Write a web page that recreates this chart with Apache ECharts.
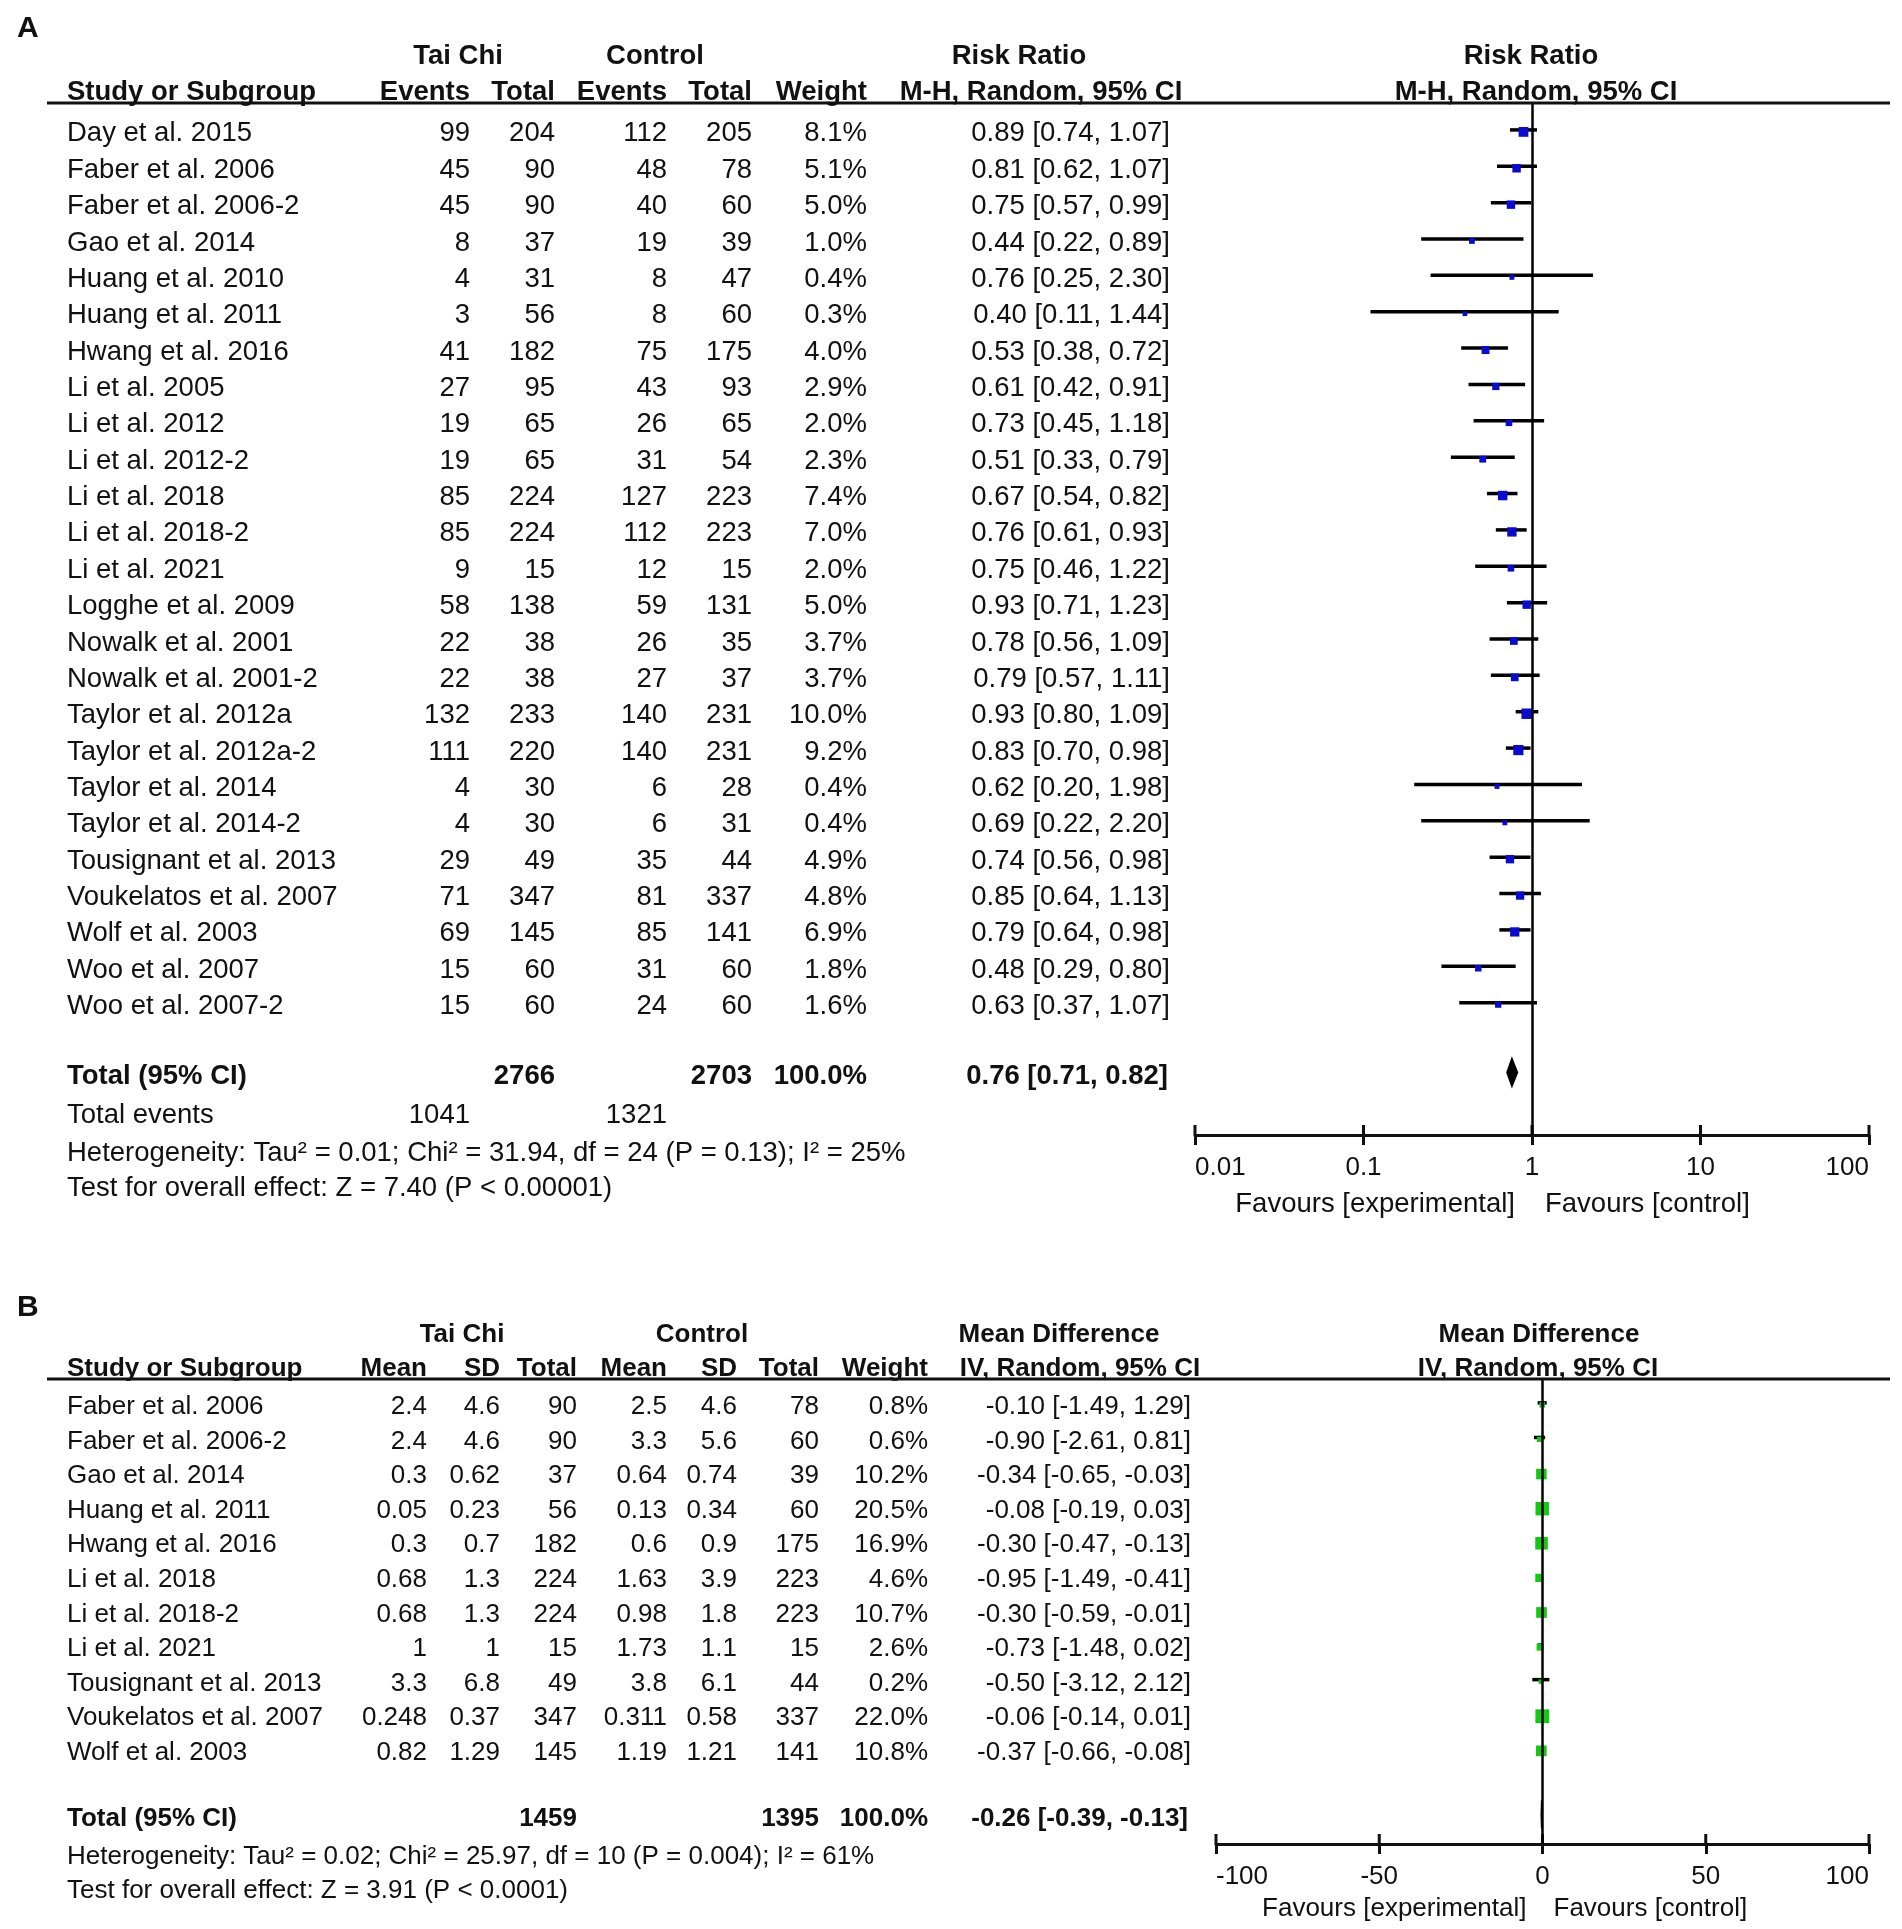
<!DOCTYPE html>
<html><head><meta charset="utf-8">
<script src="https://cdn.jsdelivr.net/npm/echarts@6.0.0/dist/echarts.min.js"></script>
<style>html,body{margin:0;padding:0;background:#fff}#c{width:1902px;height:1929px}</style>
</head><body><div id="c"></div>
<script>
// ---------- Panel A data (Risk Ratio) ----------
const studiesA = ["Day et al. 2015","Faber et al. 2006","Faber et al. 2006-2","Gao et al. 2014","Huang et al. 2010","Huang et al. 2011","Hwang et al. 2016","Li et al. 2005","Li et al. 2012","Li et al. 2012-2","Li et al. 2018","Li et al. 2018-2","Li et al. 2021","Logghe et al. 2009","Nowalk et al. 2001","Nowalk et al. 2001-2","Taylor et al. 2012a","Taylor et al. 2012a-2","Taylor et al. 2014","Taylor et al. 2014-2","Tousignant et al. 2013","Voukelatos et al. 2007","Wolf et al. 2003","Woo et al. 2007","Woo et al. 2007-2"];
const tcEventsA = [99,45,45,8,4,3,41,27,19,19,85,85,9,58,22,22,132,111,4,4,29,71,69,15,15];
const tcTotalA  = [204,90,90,37,31,56,182,95,65,65,224,224,15,138,38,38,233,220,30,30,49,347,145,60,60];
const ctEventsA = [112,48,40,19,8,8,75,43,26,31,127,112,12,59,26,27,140,140,6,6,35,81,85,31,24];
const ctTotalA  = [205,78,60,39,47,60,175,93,65,54,223,223,15,131,35,37,231,231,28,31,44,337,141,60,60];
const weightA   = [8.1,5.1,5.0,1.0,0.4,0.3,4.0,2.9,2.0,2.3,7.4,7.0,2.0,5.0,3.7,3.7,10.0,9.2,0.4,0.4,4.9,4.8,6.9,1.8,1.6];
const rrA       = [0.89,0.81,0.75,0.44,0.76,0.40,0.53,0.61,0.73,0.51,0.67,0.76,0.75,0.93,0.78,0.79,0.93,0.83,0.62,0.69,0.74,0.85,0.79,0.48,0.63];
const rrLowA    = [0.74,0.62,0.57,0.22,0.25,0.11,0.38,0.42,0.45,0.33,0.54,0.61,0.46,0.71,0.56,0.57,0.80,0.70,0.20,0.22,0.56,0.64,0.64,0.29,0.37];
const rrHighA   = [1.07,1.07,0.99,0.89,2.30,1.44,0.72,0.91,1.18,0.79,0.82,0.93,1.22,1.23,1.09,1.11,1.09,0.98,1.98,2.20,0.98,1.13,0.98,0.80,1.07];
const totalA    = {tcTotal:2766, ctTotal:2703, weight:100.0, est:0.76, low:0.71, high:0.82, tcEvents:1041, ctEvents:1321};
const hetA  = "Heterogeneity: Tau\u00b2 = 0.01; Chi\u00b2 = 31.94, df = 24 (P = 0.13); I\u00b2 = 25%";
const testA = "Test for overall effect: Z = 7.40 (P < 0.00001)";
const ticksA = [0.01, 0.1, 1, 10, 100];

// ---------- Panel B data (Mean Difference) ----------
const studiesB = ["Faber et al. 2006","Faber et al. 2006-2","Gao et al. 2014","Huang et al. 2011","Hwang et al. 2016","Li et al. 2018","Li et al. 2018-2","Li et al. 2021","Tousignant et al. 2013","Voukelatos et al. 2007","Wolf et al. 2003"];
const tcMeanB  = [2.4,2.4,0.3,0.05,0.3,0.68,0.68,1,3.3,0.248,0.82];
const tcSdB    = [4.6,4.6,0.62,0.23,0.7,1.3,1.3,1,6.8,0.37,1.29];
const tcTotalB = [90,90,37,56,182,224,224,15,49,347,145];
const ctMeanB  = [2.5,3.3,0.64,0.13,0.6,1.63,0.98,1.73,3.8,0.311,1.19];
const ctSdB    = [4.6,5.6,0.74,0.34,0.9,3.9,1.8,1.1,6.1,0.58,1.21];
const ctTotalB = [78,60,39,60,175,223,223,15,44,337,141];
const weightB  = [0.8,0.6,10.2,20.5,16.9,4.6,10.7,2.6,0.2,22.0,10.8];
const mdB      = [-0.10,-0.90,-0.34,-0.08,-0.30,-0.95,-0.30,-0.73,-0.50,-0.06,-0.37];
const mdLowB   = [-1.49,-2.61,-0.65,-0.19,-0.47,-1.49,-0.59,-1.48,-3.12,-0.14,-0.66];
const mdHighB  = [1.29,0.81,-0.03,0.03,-0.13,-0.41,-0.01,0.02,2.12,0.01,-0.08];
const totalB   = {tcTotal:1459, ctTotal:1395, weight:100.0, est:-0.26, low:-0.39, high:-0.13};
const hetB  = "Heterogeneity: Tau\u00b2 = 0.02; Chi\u00b2 = 25.97, df = 10 (P = 0.004); I\u00b2 = 61%";
const testB = "Test for overall effect: Z = 3.91 (P < 0.0001)";
const ticksB = [-100, -50, 0, 50, 100];

// ---------- helpers ----------
const FF = '"Liberation Sans", Arial, Helvetica, sans-serif';
const TEXT_DY = 4;
const f2 = v => v.toFixed(2);
const ci = (e,l,h) => f2(e) + ' [' + f2(l) + ', ' + f2(h) + ']';
const C = (t, x, a, b, rel) => ({t: String(t), x, a: a || 'right', b: !!b, rel: !!rel});

const rowsA = [];
rowsA.push({y:-2.9, fs:30, cells:[C('A', 17, 'left', true)]});
rowsA.push({y:-2.12, cells:[C('Tai Chi',458,'center',true), C('Control',655,'center',true), C('Risk Ratio',1019,'center',true), C('Risk Ratio',1531,'center',true)]});
rowsA.push({y:-1.13, line:[47,1890,-0.74], cells:[C('Study or Subgroup',67,'left',true), C('Events',470,'right',true), C('Total',555,'right',true), C('Events',667,'right',true), C('Total',752,'right',true), C('Weight',867,'right',true), C('M-H, Random, 95% CI',1041,'center',true), C('M-H, Random, 95% CI',1536,'center',true)]});
studiesA.forEach((s,i) => rowsA.push({y:i, cells:[C(s,67,'left'), C(tcEventsA[i],470), C(tcTotalA[i],555), C(ctEventsA[i],667), C(ctTotalA[i],752), C(weightA[i].toFixed(1)+'%',867), C(ci(rrA[i],rrLowA[i],rrHighA[i]),1170)]}));
rowsA.push({y:25.92, cells:[C('Total (95% CI)',67,'left',true), C(totalA.tcTotal,555,'right',true), C(totalA.ctTotal,752,'right',true), C(totalA.weight.toFixed(1)+'%',867,'right',true), C(ci(totalA.est,totalA.low,totalA.high),1168,'right',true)]});
rowsA.push({y:27.0, cells:[C('Total events',67,'left'), C(totalA.tcEvents,470), C(totalA.ctEvents,667)]});
rowsA.push({y:28.03, cells:[C(hetA,67,'left')]});
rowsA.push({y:29.0, cells:[C(testA,67,'left')]});
rowsA.push({y:29.45, cells:[C('Favours [experimental]',-17,'right',false,true), C('Favours [control]',13,'left',false,true)]});

const rowsB = [];
rowsB.push({y:-2.86, fs:30, cells:[C('B', 17, 'left', true)]});
rowsB.push({y:-2.07, cells:[C('Tai Chi',462,'center',true), C('Control',702,'center',true), C('Mean Difference',1059,'center',true), C('Mean Difference',1539,'center',true)]});
rowsB.push({y:-1.09, line:[47,1890,-0.69], cells:[C('Study or Subgroup',67,'left',true), C('Mean',427,'right',true), C('SD',500,'right',true), C('Total',577,'right',true), C('Mean',667,'right',true), C('SD',737,'right',true), C('Total',819,'right',true), C('Weight',928,'right',true), C('IV, Random, 95% CI',1080,'center',true), C('IV, Random, 95% CI',1538,'center',true)]});
studiesB.forEach((s,i) => rowsB.push({y:i, cells:[C(s,67,'left'), C(tcMeanB[i],427), C(tcSdB[i],500), C(tcTotalB[i],577), C(ctMeanB[i],667), C(ctSdB[i],737), C(ctTotalB[i],819), C(weightB[i].toFixed(1)+'%',928), C(ci(mdB[i],mdLowB[i],mdHighB[i]),1191)]}));
rowsB.push({y:11.9, cells:[C('Total (95% CI)',67,'left',true), C(totalB.tcTotal,577,'right',true), C(totalB.ctTotal,819,'right',true), C(totalB.weight.toFixed(1)+'%',928,'right',true), C(ci(totalB.est,totalB.low,totalB.high),1188,'right',true)]});
rowsB.push({y:13.0, cells:[C(hetB,67,'left')]});
rowsB.push({y:14.0, cells:[C(testB,67,'left')]});
rowsB.push({y:14.5, cells:[C('Favours [experimental]',-16,'right',false,true), C('Favours [control]',11,'left',false,true)]});

function textSeries(rows, xi, yi, xRef, fsDefault) {
  return {
    type:'custom', xAxisIndex:xi, yAxisIndex:yi, silent:true, z:5, clip:false,
    data: rows.map(r => [xRef, r.y]),
    renderItem: (params, api) => {
      const r = rows[params.dataIndex];
      const p = api.coord([xRef, api.value(1)]);
      const fs = r.fs || fsDefault;
      const children = r.cells.map(c => ({
        type:'text', x: c.rel ? p[0] + c.x : c.x, y: p[1] + TEXT_DY,
        style:{text:c.t, font:(c.b?'bold ':'') + fs + 'px ' + FF, fill:'#111', align:c.a, verticalAlign:'middle'}
      }));
      if (r.line) {
        const ly = api.coord([xRef, r.line[2]])[1];
        children.push({type:'line', shape:{x1:r.line[0], y1:ly, x2:r.line[1], y2:ly}, style:{stroke:'#111', lineWidth:3}});
      }
      return {type:'group', children};
    }
  };
}

function ciSeries(lo, hi, xi, yi) {
  return {
    type:'custom', xAxisIndex:xi, yAxisIndex:yi, silent:true, z:3,
    data: lo.map((l,i) => [l, hi[i], i]),
    renderItem: (params, api) => {
      const a = api.coord([api.value(0), api.value(2)]);
      const b = api.coord([api.value(1), api.value(2)]);
      return {type:'line', shape:{x1:a[0], y1:a[1], x2:b[0], y2:b[1]}, style:{stroke:'#000', lineWidth:3.5}};
    }
  };
}

// inward-pointing half of the crossing tick marks on the axis line
function innerTickSeries(ticks, yMax, xi, yi) {
  return {
    type:'custom', xAxisIndex:xi, yAxisIndex:yi, silent:true, z:3, clip:false,
    data: ticks.map(t => [t, yMax]),
    renderItem: (params, api) => {
      const p = api.coord([api.value(0), api.value(1)]);
      return {type:'line', shape:{x1:p[0], y1:p[1], x2:p[0], y2:p[1]-10}, style:{stroke:'#111', lineWidth:3}};
    }
  };
}

function diamondSeries(t, y, xi, yi) {
  return {
    type:'custom', xAxisIndex:xi, yAxisIndex:yi, silent:true, z:4,
    data: [[t.est, t.low, t.high, y]],
    renderItem: (params, api) => {
      const yy = api.value(3);
      const pl = api.coord([api.value(1), yy]);
      const pe = api.coord([api.value(0), yy]);
      const ph = api.coord([api.value(2), yy]);
      const h = 14;
      return {type:'polygon', shape:{points:[[pl[0],pl[1]],[pe[0],pe[1]-h],[ph[0],ph[1]],[pe[0],pe[1]+h]]}, style:{fill:'#000', stroke:'#000', lineWidth:1.5}};
    }
  };
}

function pointSeries(est, w, color, xi, yi, refX) {
  return {
    type:'scatter', xAxisIndex:xi, yAxisIndex:yi, silent:true, z:4,
    symbol:'rect', symbolOffset:[0,2],
    symbolSize: (v, p) => 3.5 + 2.2 * Math.sqrt(w[p.dataIndex]),
    itemStyle:{color:color, opacity:1},
    data: est.map((e,i) => [e, i]),
    markLine:{silent:true, symbol:['none','none'], label:{show:false}, animation:false,
      lineStyle:{color:'#000', width:2.5, type:'solid'}, data:[{xAxis:refX}]}
  };
}

function xAxis(grid, type, min, max, ticks) {
  const ax = {gridIndex:grid, type, min, max, position:'bottom', splitLine:{show:false},
    axisLine:{show:true, onZero:false, lineStyle:{color:'#111', width:3}},
    axisTick:{show:true, length:10, lineStyle:{color:'#111', width:3}, customValues:ticks},
    axisLabel:{show:true, fontSize:26, fontFamily:FF, color:'#111', margin:20, customValues:ticks,
      alignMinLabel:'left', alignMaxLabel:'right', formatter: v => String(Number(Number(v).toPrecision(3)))}
  };
  if (type === 'log') ax.logBase = 10; else ax.interval = 50;
  return ax;
}

const chart = echarts.init(document.getElementById('c'), null, {renderer:'canvas'});
chart.setOption({
  animation:false,
  backgroundColor:'#fff',
  grid:[
    {left:1195, top:103, width:674, height:1032, containLabel:false},
    {left:1216, top:1379, width:653, height:465, containLabel:false}
  ],
  xAxis: [xAxis(0,'log',0.01,100,ticksA), xAxis(1,'value',-100,100,ticksB)],
  yAxis: [
    {gridIndex:0, type:'value', inverse:true, min:-0.74, max:27.64, show:false},
    {gridIndex:1, type:'value', inverse:true, min:-0.69, max:12.75, show:false}
  ],
  series: [
    ciSeries(rrLowA, rrHighA, 0, 0),
    pointSeries(rrA, weightA, '#0a0ad0', 0, 0, 1),
    diamondSeries(totalA, 25.92, 0, 0),
    innerTickSeries(ticksA, 27.64, 0, 0),
    textSeries(rowsA, 0, 0, 1, 27.5),
    ciSeries(mdLowB, mdHighB, 1, 1),
    pointSeries(mdB, weightB, '#14c814', 1, 1, 0),
    diamondSeries(totalB, 11.9, 1, 1),
    innerTickSeries(ticksB, 12.75, 1, 1),
    textSeries(rowsB, 1, 1, 0, 26)
  ]
});
</script>
</body></html>
